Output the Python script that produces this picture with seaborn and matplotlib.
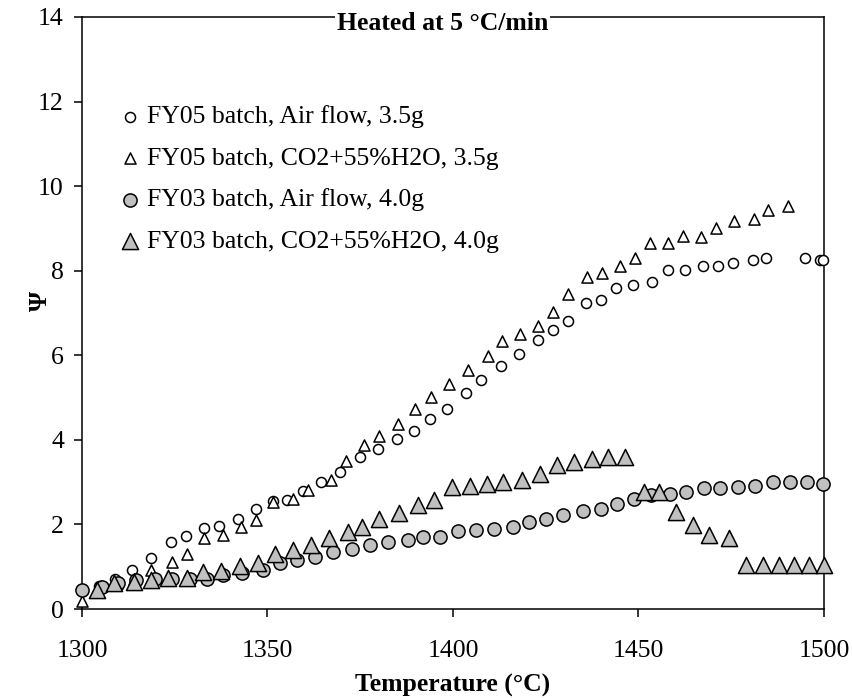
import matplotlib
matplotlib.use("Agg")
import matplotlib.pyplot as plt
import seaborn as sns
import pandas as pd

# FY05 batch, air flow, 3.5g (open circles)
fy05_air_t = [1304.6, 1309.0, 1313.6, 1318.6, 1324.0, 1328.0, 1333.0, 1337.0, 1342.0, 1346.8,
              1351.5, 1355.4, 1359.5, 1364.4, 1369.5, 1374.9, 1379.9, 1384.8, 1389.6, 1393.8,
              1398.3, 1403.5, 1407.5, 1412.9, 1417.9, 1422.8, 1426.9, 1430.9, 1435.8, 1439.9,
              1443.9, 1448.6, 1453.6, 1457.9, 1462.5, 1467.5, 1471.5, 1475.5, 1481.0, 1484.5,
              1494.9, 1498.9, 1499.8]
fy05_air_psi = [0.55, 0.70, 0.93, 1.20, 1.59, 1.72, 1.91, 1.96, 2.14, 2.37,
                2.55, 2.57, 2.78, 3.00, 3.24, 3.59, 3.79, 4.03, 4.22, 4.50,
                4.73, 5.11, 5.42, 5.74, 6.03, 6.36, 6.60, 6.80, 7.23, 7.30,
                7.59, 7.67, 7.74, 8.02, 8.02, 8.10, 8.10, 8.18, 8.25, 8.29,
                8.29, 8.25, 8.25]

# FY05 batch, CO2+55%H2O, 3.5g (open triangles)
fy05_co2_t = [1300.0, 1305.0, 1309.5, 1314.0, 1318.6, 1324.2, 1328.2, 1333.0, 1338.0, 1342.9,
              1347.0, 1351.6, 1356.8, 1361.0, 1367.1, 1371.3, 1376.1, 1380.1, 1385.1, 1389.9,
              1394.1, 1398.8, 1404.0, 1409.4, 1413.1, 1418.1, 1422.8, 1427.0, 1431.1, 1436.0,
              1440.1, 1445.0, 1449.1, 1453.1, 1458.0, 1462.1, 1466.8, 1470.9, 1475.8, 1481.2,
              1484.8, 1490.2]
fy05_co2_psi = [0.20, 0.55, 0.62, 0.72, 0.92, 1.12, 1.30, 1.67, 1.76, 1.93,
                2.11, 2.53, 2.61, 2.81, 3.04, 3.51, 3.87, 4.10, 4.38, 4.73,
                5.01, 5.32, 5.64, 5.99, 6.33, 6.50, 6.70, 7.03, 7.46, 7.84,
                7.95, 8.11, 8.31, 8.66, 8.66, 8.82, 8.80, 9.00, 9.17, 9.23,
                9.43, 9.53]

# FY03 batch, air flow, 4.0g (grey circles)
fy03_air_t = [1300.0, 1305.3, 1309.8, 1314.7, 1319.7, 1324.2, 1329.1, 1333.6, 1338.0, 1343.2,
              1348.9, 1353.4, 1357.9, 1362.8, 1367.7, 1372.7, 1377.6, 1382.6, 1387.8, 1392.0,
              1396.5, 1401.4, 1406.2, 1411.1, 1416.1, 1420.6, 1425.1, 1429.6, 1435.0, 1439.8,
              1444.3, 1448.8, 1453.3, 1458.5, 1462.7, 1467.7, 1472.0, 1476.9, 1481.4, 1486.3,
              1490.8, 1495.3, 1499.8]
fy03_air_psi = [0.46, 0.52, 0.61, 0.68, 0.72, 0.72, 0.70, 0.70, 0.80, 0.84,
                0.92, 1.08, 1.16, 1.23, 1.35, 1.43, 1.51, 1.59, 1.63, 1.71,
                1.71, 1.84, 1.88, 1.90, 1.94, 2.06, 2.14, 2.23, 2.31, 2.37,
                2.49, 2.59, 2.69, 2.73, 2.77, 2.85, 2.85, 2.88, 2.92, 3.00,
                3.00, 3.00, 2.96]

# FY03 batch, CO2+55%H2O, 4.0g (grey triangles)
fy03_co2_t = [1304.1, 1308.6, 1314.0, 1318.5, 1323.3, 1328.2, 1332.7, 1337.5, 1342.6, 1347.5,
              1352.0, 1356.8, 1361.7, 1366.7, 1371.6, 1375.4, 1380.1, 1385.5, 1390.5, 1394.8,
              1399.8, 1404.6, 1409.1, 1413.6, 1418.5, 1423.5, 1428.0, 1432.7, 1437.4, 1441.9,
              1446.5, 1451.6, 1455.6, 1460.1, 1464.6, 1469.1, 1474.5, 1479.0, 1483.5, 1487.9,
              1492.0, 1496.0, 1500.0]
fy03_co2_psi = [0.44, 0.61, 0.64, 0.68, 0.74, 0.74, 0.88, 0.90, 1.02, 1.08,
                1.31, 1.39, 1.51, 1.67, 1.82, 1.94, 2.14, 2.26, 2.45, 2.57,
                2.88, 2.92, 2.96, 3.00, 3.04, 3.20, 3.40, 3.47, 3.55, 3.59,
                3.59, 2.77, 2.77, 2.29, 1.98, 1.75, 1.67, 1.04, 1.04, 1.04,
                1.04, 1.04, 1.04]

labels = ["FY05 batch, Air flow, 3.5g", "FY05 batch, CO2+55%H2O, 3.5g",
          "FY03 batch, Air flow, 4.0g", "FY03 batch, CO2+55%H2O, 4.0g"]

sns.set_style("ticks")
plt.rcParams["font.family"] = ["Liberation Serif", "DejaVu Serif"]
for key in ["text.color", "axes.labelcolor", "xtick.color", "ytick.color"]:
    plt.rcParams[key] = "black"

fig = plt.figure(figsize=(8.52, 6.98), dpi=100)
ax = fig.add_axes([0.0962, 0.1275, 0.8709, 0.8482])

series = [
    (fy05_air_t, fy05_air_psi, "o", "white", 52),
    (fy05_co2_t, fy05_co2_psi, "^", "white", 64),
    (fy03_air_t, fy03_air_psi, "o", "#c0c0c0", 90),
    (fy03_co2_t, fy03_co2_psi, "^", "#c0c0c0", 135),
]
for (t, psi, m, fc, s), lab in zip(series, labels):
    df = pd.DataFrame({"Temperature": t, "Psi": psi})
    sns.scatterplot(data=df, x="Temperature", y="Psi", marker=m, color=fc,
                    edgecolor="black", linewidth=1.1, s=s, label=lab, ax=ax,
                    zorder=3, clip_on=False)

ax.set_xlim(1300, 1500)
ax.set_ylim(0, 14)
ax.set_xticks([1300, 1350, 1400, 1450, 1500])
ax.set_yticks(range(0, 15, 2))
ax.tick_params(axis="both", labelsize=18.5, length=6, width=1.1, direction="out")
ax.tick_params(axis="x", pad=16)
ax.tick_params(axis="y", pad=7)
for sp in ax.spines.values():
    sp.set_linewidth(1.1)
    sp.set_color("black")

ax.set_xlabel("Temperature (°C)", fontsize=18.5, fontweight="bold", labelpad=9)
ax.set_ylabel("Ψ", fontsize=18.5, fontweight="bold")
ax.yaxis.set_label_coords(-0.04, 0.52)

ax.annotate("Heated at 5 °C/min", xy=(0.486, 1.0), xycoords="axes fraction",
            xytext=(0, -5), textcoords="offset points", ha="center", va="center",
            fontsize=18.5, fontweight="bold",
            bbox=dict(facecolor="white", edgecolor="none", pad=1.5), zorder=5)

ax.legend(loc="upper left", bbox_to_anchor=(0.03, 0.868), frameon=False,
          fontsize=18.5, handletextpad=0.05, labelspacing=0.72, borderaxespad=0,
          handlelength=1.2)

fig.savefig("out.png", dpi=100)
